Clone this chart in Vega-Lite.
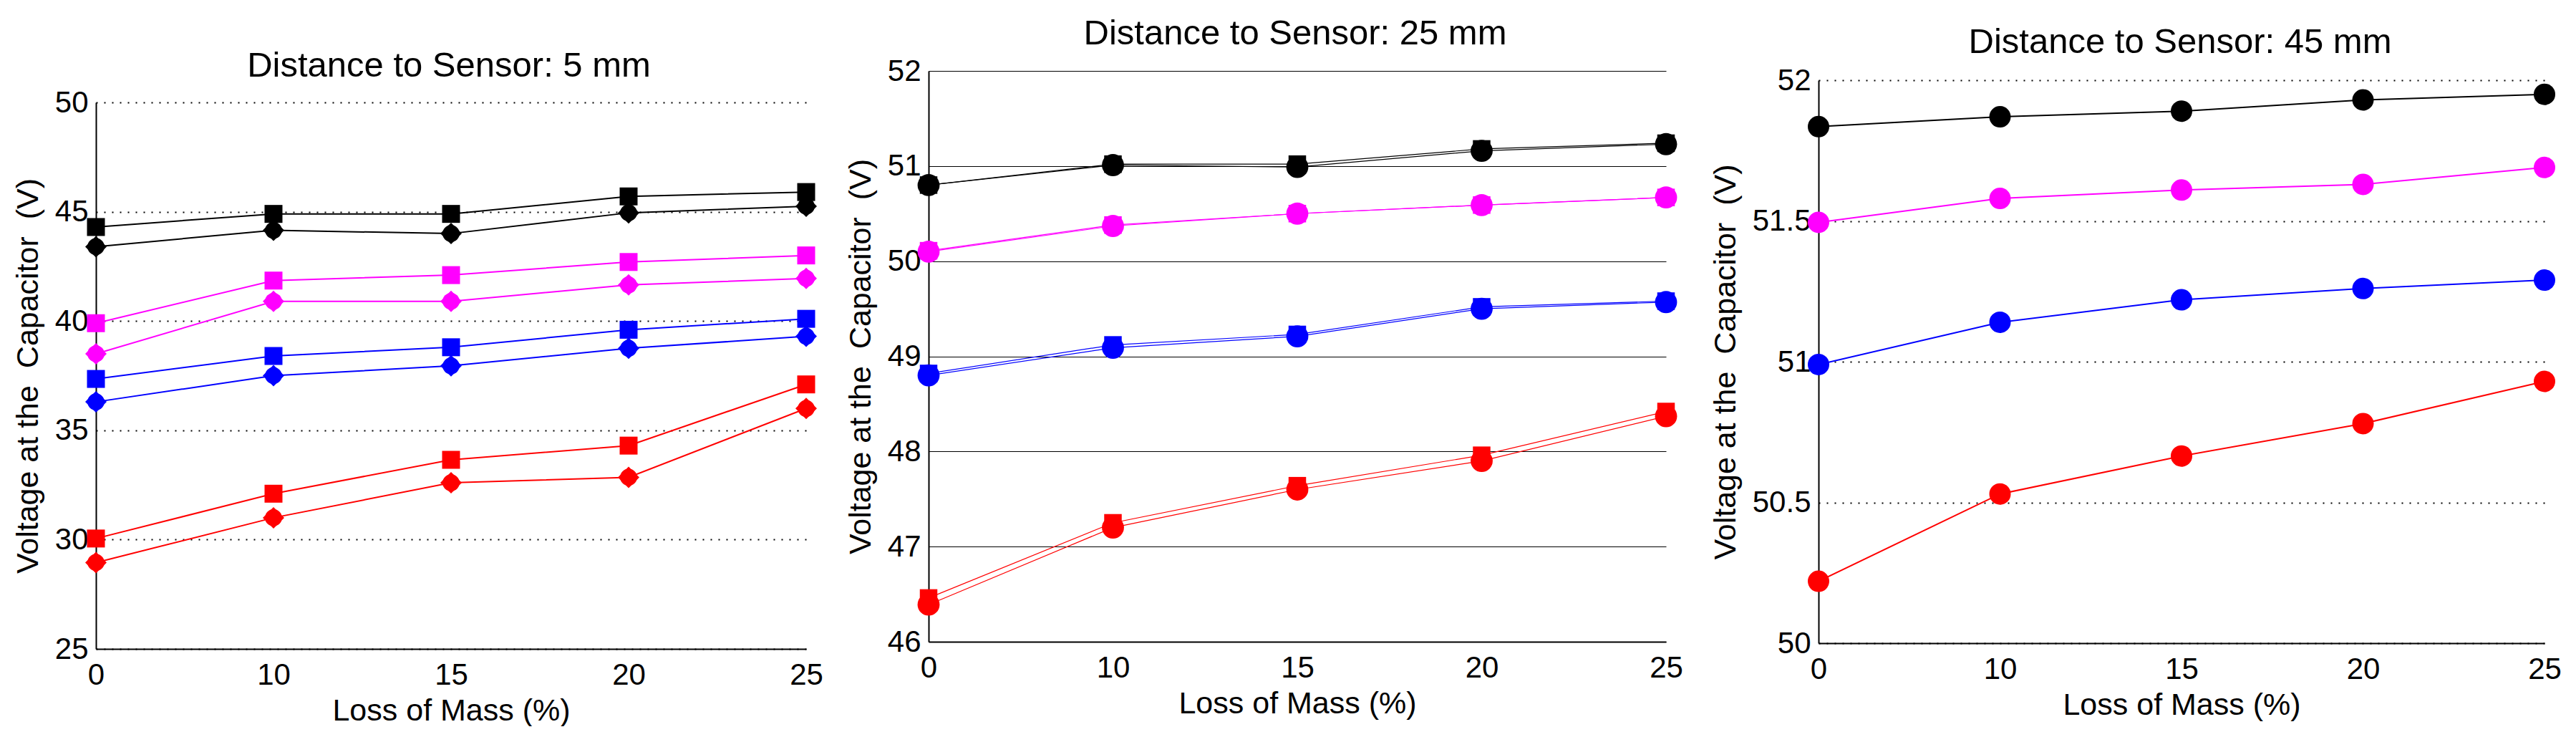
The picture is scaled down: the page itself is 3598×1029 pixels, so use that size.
{
  "$schema": "https://vega.github.io/schema/vega-lite/v6.json",
  "background": "white",
  "padding": {"left": 18, "top": 23, "right": 0, "bottom": 0},
  "datasets": {
    "d5": [
      {"loss": 0, "voltage": 44.3, "group": "g1", "run": "a"},
      {"loss": 10, "voltage": 44.9, "group": "g1", "run": "a"},
      {"loss": 15, "voltage": 44.9, "group": "g1", "run": "a"},
      {"loss": 20, "voltage": 45.7, "group": "g1", "run": "a"},
      {"loss": 25, "voltage": 45.9, "group": "g1", "run": "a"},
      {"loss": 0, "voltage": 43.4, "group": "g1", "run": "b"},
      {"loss": 10, "voltage": 44.15, "group": "g1", "run": "b"},
      {"loss": 15, "voltage": 44.0, "group": "g1", "run": "b"},
      {"loss": 20, "voltage": 44.95, "group": "g1", "run": "b"},
      {"loss": 25, "voltage": 45.25, "group": "g1", "run": "b"},
      {"loss": 0, "voltage": 39.9, "group": "g2", "run": "a"},
      {"loss": 10, "voltage": 41.85, "group": "g2", "run": "a"},
      {"loss": 15, "voltage": 42.1, "group": "g2", "run": "a"},
      {"loss": 20, "voltage": 42.7, "group": "g2", "run": "a"},
      {"loss": 25, "voltage": 43.0, "group": "g2", "run": "a"},
      {"loss": 0, "voltage": 38.5, "group": "g2", "run": "b"},
      {"loss": 10, "voltage": 40.9, "group": "g2", "run": "b"},
      {"loss": 15, "voltage": 40.9, "group": "g2", "run": "b"},
      {"loss": 20, "voltage": 41.65, "group": "g2", "run": "b"},
      {"loss": 25, "voltage": 41.95, "group": "g2", "run": "b"},
      {"loss": 0, "voltage": 37.35, "group": "g3", "run": "a"},
      {"loss": 10, "voltage": 38.4, "group": "g3", "run": "a"},
      {"loss": 15, "voltage": 38.8, "group": "g3", "run": "a"},
      {"loss": 20, "voltage": 39.6, "group": "g3", "run": "a"},
      {"loss": 25, "voltage": 40.1, "group": "g3", "run": "a"},
      {"loss": 0, "voltage": 36.3, "group": "g3", "run": "b"},
      {"loss": 10, "voltage": 37.5, "group": "g3", "run": "b"},
      {"loss": 15, "voltage": 37.95, "group": "g3", "run": "b"},
      {"loss": 20, "voltage": 38.75, "group": "g3", "run": "b"},
      {"loss": 25, "voltage": 39.3, "group": "g3", "run": "b"},
      {"loss": 0, "voltage": 30.05, "group": "g4", "run": "a"},
      {"loss": 10, "voltage": 32.1, "group": "g4", "run": "a"},
      {"loss": 15, "voltage": 33.65, "group": "g4", "run": "a"},
      {"loss": 20, "voltage": 34.3, "group": "g4", "run": "a"},
      {"loss": 25, "voltage": 37.1, "group": "g4", "run": "a"},
      {"loss": 0, "voltage": 28.95, "group": "g4", "run": "b"},
      {"loss": 10, "voltage": 31.0, "group": "g4", "run": "b"},
      {"loss": 15, "voltage": 32.6, "group": "g4", "run": "b"},
      {"loss": 20, "voltage": 32.85, "group": "g4", "run": "b"},
      {"loss": 25, "voltage": 36.0, "group": "g4", "run": "b"}
    ],
    "d25": [
      {"loss": 0, "voltage": 50.8, "group": "g1", "run": "a"},
      {"loss": 10, "voltage": 51.02, "group": "g1", "run": "a"},
      {"loss": 15, "voltage": 51.02, "group": "g1", "run": "a"},
      {"loss": 20, "voltage": 51.18, "group": "g1", "run": "a"},
      {"loss": 25, "voltage": 51.24, "group": "g1", "run": "a"},
      {"loss": 0, "voltage": 50.8, "group": "g1", "run": "b"},
      {"loss": 10, "voltage": 51.01, "group": "g1", "run": "b"},
      {"loss": 15, "voltage": 50.99, "group": "g1", "run": "b"},
      {"loss": 20, "voltage": 51.16, "group": "g1", "run": "b"},
      {"loss": 25, "voltage": 51.23, "group": "g1", "run": "b"},
      {"loss": 0, "voltage": 50.11, "group": "g2", "run": "a"},
      {"loss": 10, "voltage": 50.38, "group": "g2", "run": "a"},
      {"loss": 15, "voltage": 50.5, "group": "g2", "run": "a"},
      {"loss": 20, "voltage": 50.59, "group": "g2", "run": "a"},
      {"loss": 25, "voltage": 50.67, "group": "g2", "run": "a"},
      {"loss": 0, "voltage": 50.1, "group": "g2", "run": "b"},
      {"loss": 10, "voltage": 50.37, "group": "g2", "run": "b"},
      {"loss": 15, "voltage": 50.5, "group": "g2", "run": "b"},
      {"loss": 20, "voltage": 50.59, "group": "g2", "run": "b"},
      {"loss": 25, "voltage": 50.67, "group": "g2", "run": "b"},
      {"loss": 0, "voltage": 48.82, "group": "g3", "run": "a"},
      {"loss": 10, "voltage": 49.12, "group": "g3", "run": "a"},
      {"loss": 15, "voltage": 49.23, "group": "g3", "run": "a"},
      {"loss": 20, "voltage": 49.52, "group": "g3", "run": "a"},
      {"loss": 25, "voltage": 49.58, "group": "g3", "run": "a"},
      {"loss": 0, "voltage": 48.8, "group": "g3", "run": "b"},
      {"loss": 10, "voltage": 49.09, "group": "g3", "run": "b"},
      {"loss": 15, "voltage": 49.21, "group": "g3", "run": "b"},
      {"loss": 20, "voltage": 49.5, "group": "g3", "run": "b"},
      {"loss": 25, "voltage": 49.57, "group": "g3", "run": "b"},
      {"loss": 0, "voltage": 46.46, "group": "g4", "run": "a"},
      {"loss": 10, "voltage": 47.25, "group": "g4", "run": "a"},
      {"loss": 15, "voltage": 47.64, "group": "g4", "run": "a"},
      {"loss": 20, "voltage": 47.96, "group": "g4", "run": "a"},
      {"loss": 25, "voltage": 48.42, "group": "g4", "run": "a"},
      {"loss": 0, "voltage": 46.39, "group": "g4", "run": "b"},
      {"loss": 10, "voltage": 47.2, "group": "g4", "run": "b"},
      {"loss": 15, "voltage": 47.6, "group": "g4", "run": "b"},
      {"loss": 20, "voltage": 47.9, "group": "g4", "run": "b"},
      {"loss": 25, "voltage": 48.37, "group": "g4", "run": "b"}
    ],
    "d45": [
      {"loss": 0, "voltage": 51.835, "group": "g1"},
      {"loss": 10, "voltage": 51.87, "group": "g1"},
      {"loss": 15, "voltage": 51.89, "group": "g1"},
      {"loss": 20, "voltage": 51.93, "group": "g1"},
      {"loss": 25, "voltage": 51.95, "group": "g1"},
      {"loss": 0, "voltage": 51.495, "group": "g2"},
      {"loss": 10, "voltage": 51.58, "group": "g2"},
      {"loss": 15, "voltage": 51.61, "group": "g2"},
      {"loss": 20, "voltage": 51.63, "group": "g2"},
      {"loss": 25, "voltage": 51.69, "group": "g2"},
      {"loss": 0, "voltage": 50.99, "group": "g3"},
      {"loss": 10, "voltage": 51.14, "group": "g3"},
      {"loss": 15, "voltage": 51.22, "group": "g3"},
      {"loss": 20, "voltage": 51.26, "group": "g3"},
      {"loss": 25, "voltage": 51.29, "group": "g3"},
      {"loss": 0, "voltage": 50.22, "group": "g4"},
      {"loss": 10, "voltage": 50.53, "group": "g4"},
      {"loss": 15, "voltage": 50.665, "group": "g4"},
      {"loss": 20, "voltage": 50.78, "group": "g4"},
      {"loss": 25, "voltage": 50.93, "group": "g4"}
    ]
  },
  "spacing": 171,
  "bounds": "flush",
  "resolve": {"scale": {"x": "independent", "y": "independent"}},
  "hconcat": [
    {
      "title": {"text": "Distance to Sensor: 5 mm", "dy": 22, "dx": -3},
      "width": 992,
      "height": 807,
      "data": {"name": "d5"},
      "encoding": {
        "x": {"field": "loss", "type": "ordinal", "sort": "ascending",
              "scale": {"type": "point", "padding": 0},
              "axis": {"title": "Loss of Mass (%)", "labelAngle": 0, "gridDash": [2, 9], "gridWidth": 2}},
        "y": {"field": "voltage", "type": "quantitative",
              "scale": {"domain": [25, 50], "range": [807, 44], "zero": false, "nice": false},
              "axis": {"title": "Voltage at the\u00a0 Capacitor\u00a0 (V)", "values": [25, 30, 35, 40, 45, 50], "gridDash": [2, 9], "gridWidth": 2}},
        "color": {"field": "group", "type": "nominal",
                  "scale": {"domain": ["g1", "g2", "g3", "g4"], "range": ["#000000", "#ff00ff", "#0000ff", "#ff0000"]},
                  "legend": null}
      },
      "layer": [
        {"mark": {"type": "line", "strokeWidth": 2}, "encoding": {"detail": {"field": "run"}}},
        {"transform": [{"filter": "datum.run === 'a'"}],
         "mark": {"type": "point", "shape": "square", "filled": true, "opacity": 1, "size": 625}},
        {"transform": [{"filter": "datum.run === 'b'"}],
         "mark": {"type": "point", "shape": "diamond", "filled": true, "opacity": 1, "size": 900}},
        {"transform": [{"filter": "datum.run === 'b'"}],
         "mark": {"type": "point", "shape": "circle", "filled": true, "opacity": 1, "size": 560}}
      ]
    },
    {
      "title": {"text": "Distance to Sensor: 25 mm", "dy": -2, "dx": -24},
      "width": 1072,
      "height": 797,
      "data": {"name": "d25"},
      "encoding": {
        "x": {"field": "loss", "type": "ordinal", "sort": "ascending",
              "scale": {"type": "point", "padding": 0, "range": [0, 1030]},
              "axis": {"title": "Loss of Mass (%)", "labelAngle": 0, "gridWidth": 1}},
        "y": {"field": "voltage", "type": "quantitative",
              "scale": {"domain": [46, 52], "zero": false, "nice": false},
              "axis": {"title": "Voltage at the\u00a0 Capacitor\u00a0 (V)", "values": [46, 47, 48, 49, 50, 51, 52], "gridWidth": 1}},
        "color": {"field": "group", "type": "nominal",
                  "scale": {"domain": ["g1", "g2", "g3", "g4"], "range": ["#000000", "#ff00ff", "#0000ff", "#ff0000"]},
                  "legend": null}
      },
      "layer": [
        {"mark": {"type": "line", "strokeWidth": 1.2}, "encoding": {"detail": {"field": "run"}}},
        {"transform": [{"filter": "datum.run === 'a'"}],
         "mark": {"type": "point", "shape": "square", "filled": true, "opacity": 1, "size": 600}},
        {"transform": [{"filter": "datum.run === 'b'"}],
         "mark": {"type": "point", "shape": "circle", "filled": true, "opacity": 1, "size": 950}}
      ]
    },
    {
      "title": {"text": "Distance to Sensor: 45 mm", "dy": -3, "dx": -2},
      "width": 1014,
      "height": 799,
      "data": {"name": "d45"},
      "encoding": {
        "x": {"field": "loss", "type": "ordinal", "sort": "ascending",
              "scale": {"type": "point", "padding": 0},
              "axis": {"title": "Loss of Mass (%)", "labelAngle": 0, "gridDash": [2, 9], "gridWidth": 2}},
        "y": {"field": "voltage", "type": "quantitative",
              "scale": {"domain": [50, 52], "range": [799, 13], "zero": false, "nice": false},
              "axis": {"title": "Voltage at the\u00a0 Capacitor\u00a0 (V)", "values": [50, 50.5, 51, 51.5, 52], "format": "~g", "gridDash": [2, 9], "gridWidth": 2}},
        "color": {"field": "group", "type": "nominal",
                  "scale": {"domain": ["g1", "g2", "g3", "g4"], "range": ["#000000", "#ff00ff", "#0000ff", "#ff0000"]},
                  "legend": null}
      },
      "layer": [
        {"mark": {"type": "line", "strokeWidth": 2}},
        {"mark": {"type": "point", "shape": "circle", "filled": true, "opacity": 1, "size": 900}}
      ]
    }
  ],
  "config": {
    "font": "Liberation Sans",
    "view": {"stroke": null},
    "title": {"fontSize": 49, "fontWeight": "normal", "color": "#000000", "frame": "group", "baseline": "alphabetic", "offset": 0},
    "axis": {
      "labelFontSize": 42, "titleFontSize": 43, "titleFontWeight": "normal",
      "labelColor": "#000000", "titleColor": "#000000",
      "domainColor": "#000000", "domainWidth": 2,
      "ticks": false, "gridColor": "#000000", "gridOpacity": 1
    },
    "axisX": {"labelPadding": 16, "titlePadding": 8},
    "axisY": {"labelPadding": 11, "titlePadding": 15}
  }
}
